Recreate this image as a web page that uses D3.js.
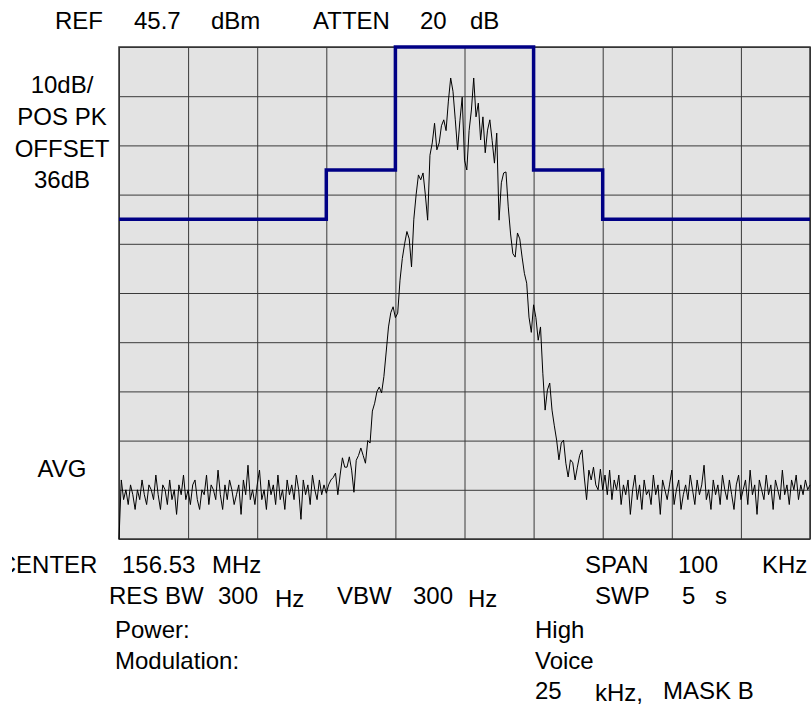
<!DOCTYPE html>
<html>
<head>
<meta charset="utf-8">
<script src="https://cdn.jsdelivr.net/npm/d3@7"></script>
<style>
  body { margin: 0; background: #fff; }
  text { font-family: Arial, "Liberation Sans", sans-serif; font-size: 24px; fill: #000; }
</style>
</head>
<body>
<svg id="chart" width="811" height="706"></svg>
<script>
// spectrum trace, dB relative to REF, one point every 1/3 kHz
var traceStep = 1 / 3;
var traceLeft = [  // -50 .. -20 kHz
  -100, -88, -92, -90, -93, -89, -91, -94, -90, -92,
  -88, -91, -93, -89, -90, -92, -87, -91, -94, -89,
  -90, -93, -88, -92, -90, -95, -89, -91, -87, -92,
  -90, -93, -89, -88, -92, -94, -90, -91, -87, -93,
  -89, -90, -92, -86, -91, -94, -89, -92, -88, -90,
  -93, -91, -89, -95, -88, -91, -85, -92, -90, -93,
  -89, -86, -92, -90, -94, -88, -91, -89, -93, -87,
  -92, -90, -94, -88, -91, -89, -92, -87, -90, -96,
  -88, -91, -89, -93, -87, -90, -92, -88, -91, -89
];
var traceLobe = [  // -20 .. +20 kHz
  -90.7, -89, -88, -87.5, -86.6, -91, -87, -83.5, -85.4, -85.4,
  -83.3, -86, -90.5, -84, -83, -81.5, -83, -84.6, -80, -80.5,
  -74, -72.4, -70, -69.1, -70.3, -67, -62, -56.9, -54, -52.8,
  -55, -54.1, -47.4, -43, -40, -37.5, -39, -44.7, -35, -30,
  -26, -27, -25.6, -30, -35.2, -22, -19.5, -15.5, -20.9, -19.5,
  -16, -14.8, -17, -11, -6.3, -9, -14.8, -20.9, -15, -10.2,
  -23, -25, -17, -12.8, -6.3, -14.2, -11.4, -18.9, -14.2, -21.5,
  -16.9, -14.8, -19, -23.6, -17.5, -35.2, -27.6, -25.6, -25.4, -32.5,
  -38, -42, -42.7, -37.8, -39, -42.7, -46, -48, -54.9, -58,
  -52.4, -55, -59.6, -56.9, -66.3, -73.8, -69.7, -68.3, -73.8, -77,
  -79.9, -83.9, -80.5, -79.9, -84.6, -87.4, -83.9, -84.5, -88, -85.4,
  -83, -81.9, -87.4, -92, -86, -88, -85.4, -89, -90, -85.8
];
var traceRight = [  // +20 .. +50 kHz
  -90, -87, -91, -86, -92, -88, -90, -87, -93, -89,
  -91, -88, -95, -90, -87, -92, -89, -94, -88, -91,
  -90, -93, -87, -91, -89, -95, -88, -90, -92, -89,
  -86, -93, -90, -88, -94, -91, -89, -92, -87, -90,
  -93, -88, -91, -89, -85, -92, -90, -94, -88, -91,
  -89, -93, -87, -90, -92, -88, -91, -94, -89, -87,
  -92, -90, -88, -93, -86, -91, -89, -95, -88, -90,
  -92, -87, -91, -89, -94, -88, -90, -92, -86, -91,
  -89, -93, -88, -90, -87, -92, -89, -91, -88, -90,
  -89
];

// emission mask B (25 kHz channel)
var maskFreq  = [-50, -20, -20, -10, -10, 10, 10, 20, 20, 50];
var maskLevel = [-35, -35, -25, -25, 0, 0, -25, -25, -35, -35];

var freqTicks  = d3.range(-50, 51, 10);
var levelTicks = d3.range(-100, 1, 10);

var topLine  = ["REF", "45.7", "dBm", "ATTEN", "20", "dB"];
var sideLine = ["10dB/", "POS PK", "OFFSET", "36dB"];
var sideAvg  = "AVG";

var svg = d3.select("#chart");
var x = d3.scaleLinear().domain([-50, 50]).range([119, 810]);
var y = d3.scaleLinear().domain([-100, 0]).range([539, 47]);

svg.append("rect")
    .attr("x", x(-50)).attr("y", y(0))
    .attr("width", x(50) - x(-50)).attr("height", y(-100) - y(0))
    .style("fill", "#e3e3e3");

// grid through axes
svg.append("g")
    .attr("class", "vgrid")
    .attr("transform", "translate(0," + y(-100) + ")")
    .call(d3.axisBottom(x).tickValues(freqTicks).tickSize(-(y(-100) - y(0))).tickFormat(""));
svg.append("g")
    .attr("class", "hgrid")
    .attr("transform", "translate(" + x(-50) + ",0)")
    .call(d3.axisLeft(y).tickValues(levelTicks).tickSize(-(x(50) - x(-50))).tickFormat(""));
svg.selectAll(".vgrid line, .hgrid line").style("stroke", "#3a3a3a").style("stroke-width", 1);
svg.selectAll(".vgrid path, .hgrid path").remove();

svg.append("rect")
    .attr("x", x(-50)).attr("y", y(0))
    .attr("width", x(50) - x(-50)).attr("height", y(-100) - y(0))
    .style("fill", "none").style("stroke", "#333").style("stroke-width", 1.5);

// trace
var levels = traceLeft.concat(traceLobe, traceRight);
var trace = levels.map(function(v, i) { return {f: -50 + i * traceStep, v: v}; });

var plot = svg.append("g");
plot.append("path")
    .datum(trace)
    .attr("d", d3.line().x(function(d) { return x(d.f); }).y(function(d) { return y(d.v); }))
    .style("fill", "none").style("stroke", "#000").style("stroke-width", 1)
    .style("stroke-linejoin", "round");

var mask = maskFreq.map(function(f, i) { return {f: f, v: maskLevel[i]}; });
plot.append("path")
    .datum(mask)
    .attr("d", d3.line().x(function(d) { return x(d.f); }).y(function(d) { return y(d.v); }))
    .style("fill", "none").style("stroke", "#000085").style("stroke-width", 3.5)
    .style("stroke-linejoin", "miter");

// header
var topX = [55, 134, 211, 313, 420, 470];
svg.selectAll(".top")
    .data(topLine)
  .enter().append("text")
    .attr("class", "top")
    .attr("x", function(d, i) { return topX[i]; })
    .attr("y", 29)
    .text(function(d) { return d; });

var sideY = [93, 125, 157, 188];
svg.selectAll(".side")
    .data(sideLine)
  .enter().append("text")
    .attr("class", "side")
    .attr("x", 62)
    .attr("y", function(d, i) { return sideY[i]; })
    .attr("text-anchor", "middle")
    .text(function(d) { return d; });

svg.append("text")
    .attr("x", 62).attr("y", 477)
    .attr("text-anchor", "middle")
    .text(sideAvg);

// footer
svg.append("clipPath").attr("id", "leftclip")
  .append("rect").attr("x", 12).attr("y", 540).attr("width", 400).attr("height", 60);

var footer = [
  {t: "CENTER", x: -1.3, y: 573, clip: true},
  {t: "156.53", x: 122, y: 573},
  {t: "MHz", x: 212, y: 573},
  {t: "SPAN", x: 585, y: 573},
  {t: "100", x: 678, y: 573},
  {t: "KHz", x: 762, y: 573},
  {t: "RES BW", x: 109, y: 604},
  {t: "300", x: 218, y: 604},
  {t: "Hz", x: 275, y: 607},
  {t: "VBW", x: 337, y: 604},
  {t: "300", x: 413, y: 604},
  {t: "Hz", x: 468, y: 607},
  {t: "SWP", x: 595, y: 604},
  {t: "5", x: 682, y: 604},
  {t: "s", x: 715, y: 604},
  {t: "Power:", x: 115, y: 638},
  {t: "High", x: 535, y: 638},
  {t: "Modulation:", x: 115, y: 669},
  {t: "Voice", x: 535, y: 669},
  {t: "25", x: 535, y: 699},
  {t: "kHz,", x: 595, y: 701},
  {t: "MASK B", x: 663, y: 699}
];
svg.selectAll(".foot")
    .data(footer)
  .enter().append("text")
    .attr("class", "foot")
    .attr("x", function(d) { return d.x; })
    .attr("y", function(d) { return d.y; })
    .attr("clip-path", function(d) { return d.clip ? "url(#leftclip)" : null; })
    .text(function(d) { return d.t; });
</script>
</body>
</html>
